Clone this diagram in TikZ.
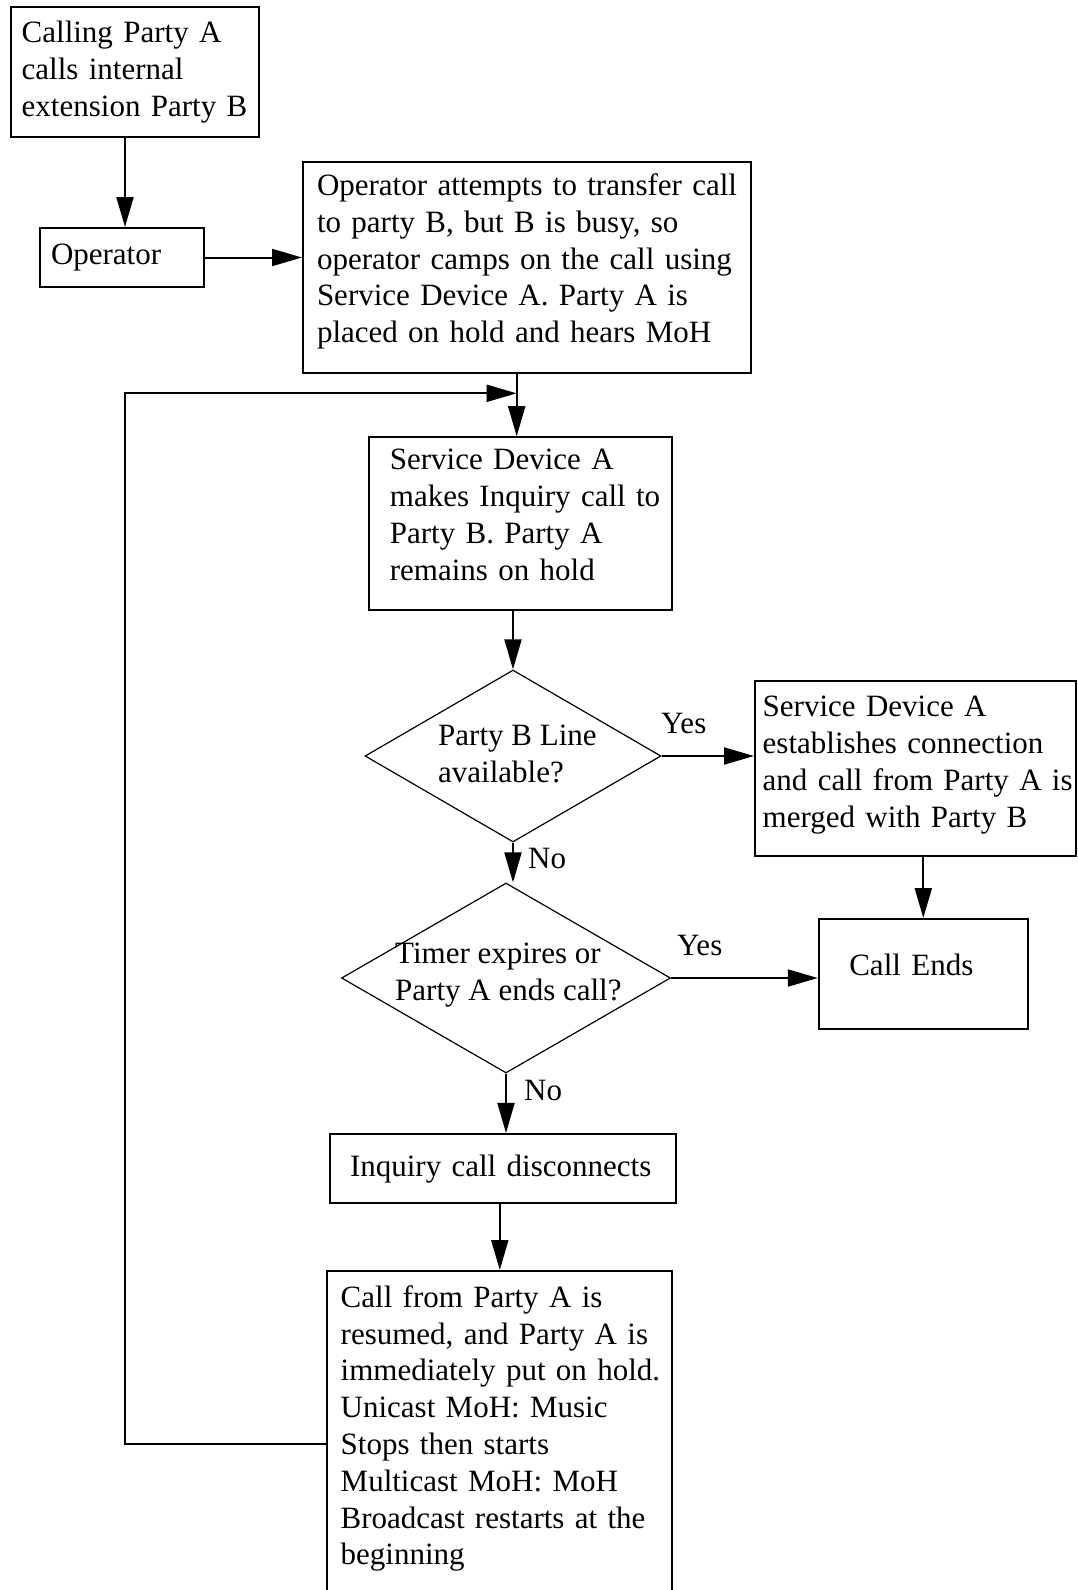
\documentclass[tikz,border=0pt]{standalone}
\usepackage{fontspec}
\setmainfont{Liberation Serif}
\usetikzlibrary{arrows.meta,shapes.geometric}
\newcommand{\bodyfont}{\fontsize{31}{36.8}\selectfont}
\tikzset{
  box/.style={draw, line width=2pt, align=left, font=\bodyfont, inner xsep=0pt, inner ysep=0pt},
  pad/.style={execute at begin node={\leftskip=#1\rightskip=0pt plus 1fil\relax}},
  dia/.style={draw, diamond, line width=1.2pt, inner sep=0pt, aspect=1},
  lbl/.style={font=\bodyfont, inner sep=0pt, align=left},
  arr/.style={line width=2pt, -{Triangle[length=30pt,width=17pt]}},
}
\begin{document}
\begin{tikzpicture}[x=1pt,y=-1pt]
\useasboundingbox (0,0) rectangle (1077,1590);
% boxes
\node[box, pad=10.7pt, text width=248pt, minimum height=130.5pt] (start) at (135,72)
  {Calling Party A\\calls internal\\extension Party B};
\node[box, pad=11pt, text width=164pt, minimum height=59pt] (op) at (122,257.5) {Operator};
\node[box, pad=14pt, text width=448pt, minimum height=211pt, text depth=165pt] (box3) at (527,267)
  {Operator attempts to transfer call\\to party B, but B is busy, so\\operator camps on the call using\\Service Device A. Party A is\\placed on hold and hears MoH};
\node[box, pad=21pt, text width=303pt, minimum height=173pt, text depth=128pt] (box4) at (520.4,523.7)
  {Service Device A\\makes Inquiry call to\\Party B. Party A\\remains on hold};
\node[dia, minimum width=296pt, minimum height=172pt] (d1) at (513,756) {};
\node[lbl, anchor=west] (d1t) at (438,754) {Party B Line\\available?};
\node[box, pad=7.7pt, text width=321pt, minimum height=175pt, text depth=124pt] (box5) at (915.5,768.5)
  {Service Device A\\establishes connection\\and call from Party A is\\merged with Party B};
\node[box, pad=30.5pt, text width=209pt, minimum height=110pt, text height=21pt, text depth=18pt] (ce) at (923.3,974)
  {Call Ends};
\node[dia, minimum width=329pt, minimum height=190pt] (d2) at (506,978) {};
\node[lbl, anchor=west] (d2t) at (395,975) {Timer expires or\\Party A ends call?};
\node[box, pad=20pt, text width=346pt, minimum height=69.5pt] (inq) at (503,1168.7) {Inquiry call disconnects};
\node[box, anchor=north, pad=13.4pt, inner ysep=14.5pt, text width=345pt, text depth=340pt] (final) at (499.8,1270)
  {Call from Party A is\\resumed, and Party A is\\immediately put on hold.\\Unicast MoH: Music\\Stops then starts\\Multicast MoH: MoH\\Broadcast restarts at the\\beginning};
% labels
\node[lbl, anchor=base west] (yes1) at (661,733) {Yes};
\node[lbl, anchor=base west] (yes2) at (677,955) {Yes};
\node[lbl, anchor=base west] (no1) at (528,868) {No};
\node[lbl, anchor=base west] (no2) at (524,1100.5) {No};
% helper coordinates
\coordinate (join) at (516.7,393.3);
\coordinate (loopc) at (125,1444);
% connectors
\draw[arr] ([xshift=3pt]op.north |- start.south) -- ([xshift=3pt]op.north);
\draw[arr] (op.east) -- (op.east -| box3.west);
\draw[arr] (box3.south -| join) -- (box4.north -| join);
\draw[arr] (box4.south -| d1.north) -- (d1.north);
\draw[arr] (d1.east) -- (d1.east -| box5.west);
\draw[arr] (d1.south) -- (d1.south |- d2.north);
\draw[arr] (ce.north |- box5.south) -- (ce.north);
\draw[arr] (d2.east) -- (d2.east -| ce.west);
\draw[arr] (d2.south) -- (d2.south |- inq.north);
\draw[arr] (inq.south -| final.north) -- (final.north);
\draw[arr] (final.west |- loopc) -- (loopc) |- (join);
\end{tikzpicture}
\end{document}
